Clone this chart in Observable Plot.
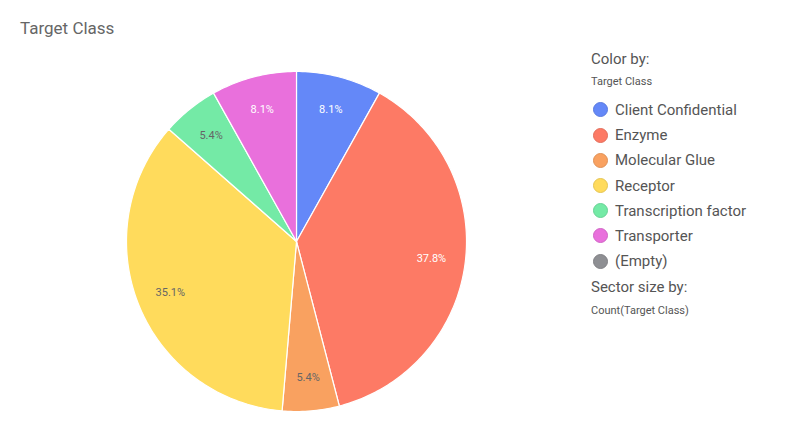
<!DOCTYPE html>
<html>
<head>
<meta charset="utf-8">
<script src="https://cdn.jsdelivr.net/npm/d3@7"></script>
<script src="https://cdn.jsdelivr.net/npm/@observablehq/plot@0.6"></script>
<style>
  html, body { margin: 0; padding: 0; background: #fff; }
  body { width: 800px; height: 447px; position: relative; overflow: hidden; font-family: Roboto, "Noto Sans", sans-serif; }
  #chart { position: absolute; left: 0; top: 0; }
  #title { position: absolute; left: 20px; top: 18px; font-size: 17px; color: #666; }
  #legend { position: absolute; left: 591px; top: 49px; color: #555; }
  .lh { font-size: 15px; color: #555; height: 20px; line-height: 20px; }
  .ls { font-size: 11px; color: #555; height: 14px; line-height: 14px; margin-top: 6px; margin-bottom: 8.4px; }
  .li { display: flex; align-items: center; height: 25.2px; font-size: 15px; color: #555; }
  .sw { width: 15px; height: 15px; border-radius: 50%; margin-left: 2px; margin-right: 7px; box-sizing: border-box; }
</style>
</head>
<body>
<div id="chart"></div>
<div id="title">Target Class</div>
<div id="legend"></div>
<script>
const categories = ["Client Confidential", "Enzyme", "Molecular Glue", "Receptor", "Transcription factor", "Transporter", "(Empty)"];
const counts = [3, 14, 2, 13, 2, 3, 0];
const colors = ["#6488f8", "#fd7a65", "#f9a160", "#ffdb5c", "#74eaa6", "#e970dc", "#8e8f93"];
const labelColors = ["#fff", "#fff", "#666", "#666", "#666", "#fff", "#666"];

const total = d3.sum(counts);
const slices = d3.pie().sort(null).value(d => d.count)(
  categories.map((c, i) => ({category: c, count: counts[i], labelColor: labelColors[i]}))
).filter(s => s.data.count > 0);

// polygon outline points per slice (angles clockwise from 12 o'clock)
const outline = [];
for (const s of slices) {
  const n = Math.max(2, Math.ceil((s.endAngle - s.startAngle) / (Math.PI / 180)));
  outline.push({category: s.data.category, x: 0, y: 0});
  for (let k = 0; k <= n; k++) {
    const a = s.startAngle + (s.endAngle - s.startAngle) * k / n;
    outline.push({category: s.data.category, x: Math.sin(a), y: Math.cos(a)});
  }
  outline.push({category: s.data.category, x: 0, y: 0});
}
const labels = slices.map(s => {
  const a = (s.startAngle + s.endAngle) / 2;
  return {
    x: 0.8 * Math.sin(a), y: 0.8 * Math.cos(a),
    text: (s.data.count / total * 100).toFixed(1) + "%",
    color: s.data.labelColor
  };
});

const plot = Plot.plot({
  width: 800,
  height: 447,
  margin: 0,
  x: {domain: [-1, 1], range: [126, 466], axis: null},
  y: {domain: [-1, 1], range: [411, 71], axis: null},
  color: {domain: categories, range: colors},
  style: {background: "transparent", fontFamily: "Roboto, 'Noto Sans', sans-serif"},
  marks: [
    Plot.line(outline, {x: "x", y: "y", z: "category", fill: "category", stroke: "#fff", strokeWidth: 1.2, curve: "linear"}),
    Plot.text(labels, {x: "x", y: "y", text: "text", fill: d => d.color, fontSize: 11})
  ]
});
document.getElementById("chart").appendChild(plot);

const legend = document.getElementById("legend");
legend.innerHTML = `<div class="lh">Color by:</div><div class="ls">Target Class</div>` +
  categories.map((c, i) => `<div class="li"><div class="sw" style="background:${colors[i]};border:1px solid ${d3.color(colors[i]).darker(0.3)}"></div>${c}</div>`).join("") +
  `<div class="lh" style="margin-top:3px">Sector size by:</div><div class="ls" style="margin-top:7px">Count(Target Class)</div>`;
</script>
</body>
</html>
